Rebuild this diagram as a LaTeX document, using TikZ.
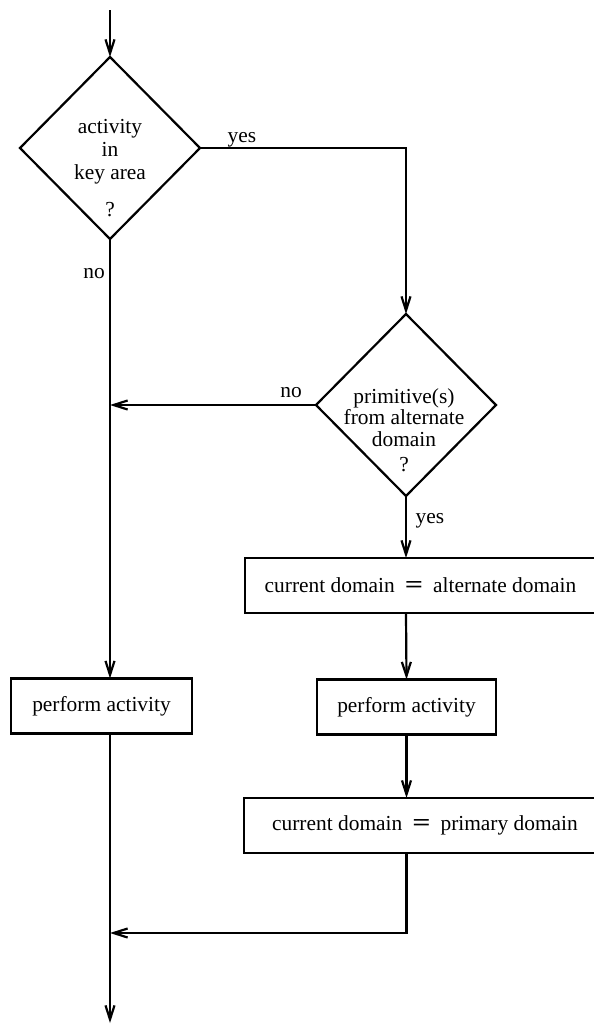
\documentclass[tikz,border=0pt]{standalone}
\usepackage{fontspec}
\setmainfont{Liberation Serif}
\usetikzlibrary{shapes.geometric,arrows.meta}

\newcommand{\eqsym}{\hspace{5pt}\scalebox{1.5}[1.1]{\textbf{=}}\hspace{5pt}}

\begin{document}
\begin{tikzpicture}[x=0.5pt, y=-0.5pt, outer sep=0pt, line width=1.1pt]

\tikzstyle{every node}=[font=\fontsize{10.7}{10.7}\selectfont]
\tikzstyle{decision}=[draw, diamond, minimum width=90pt, minimum height=91pt, inner sep=0pt]
\tikzstyle{qtext}=[align=center, inner sep=0pt]
\tikzstyle{action}=[draw, rectangle, minimum height=27.5pt, inner sep=0pt]
\tikzstyle{flow}=[-{Straight Barb[length=7pt,width=4.5pt]}]
\tikzstyle{answer}=[anchor=base, inner sep=0pt]

\path[use as bounding box, clip] (0,0) rectangle (594,1024);

\coordinate (start) at (110,10); \coordinate (join) at (110,933); \coordinate (out) at (110,1023);

\node[decision] (d1) at (110,148) {}; \node[qtext] (d1q) at (110,168) {activity\\[0.8pt]in\\[0.8pt]key area\\[7.8pt]?};
\node[decision] (d2) at (406,405) {}; \node[qtext] (d2q) at (404,430) {primitive(s)\\from alternate\\domain\\[1.8pt]?};

\node[action, minimum width=175.5pt] (alt) at (420.5,585.5) {current domain\eqsym alternate domain};
\node[action, minimum width=90.5pt] (p1) at (101.5,706) {perform activity}; \node[action, minimum width=89.5pt] (p2) at (406.5,707) {perform activity};
\node[action, minimum width=181pt] (prim) at (425,825.5) {current domain\eqsym primary domain};

\node[answer] (y1) at (242,142) {yes}; \node[answer] (n1) at (94,278) {no};
\node[answer] (n2) at (291,397) {no}; \node[answer] (y2) at (430,523) {yes};

\draw[flow] (start) -- (d1.north);
\draw[flow] (d1.east) -| (d2.north);
\draw[flow] (d1.south) -- (d1.south |- p1.north);
\draw[flow] (d2.west) -- (d2.west -| d1.south);
\draw[flow] (d2.south) -- (d2.south |- alt.north);
\draw[flow] (d2.south |- alt.south) -- (p2.north);
\draw[flow] (p2.south) -- (p2.south |- prim.north);
\draw[flow] (p2.south |- prim.south) -- (p2.south |- join) -- (join);
\draw[flow] (join |- p1.south) -- (out);

\end{tikzpicture}
\end{document}
